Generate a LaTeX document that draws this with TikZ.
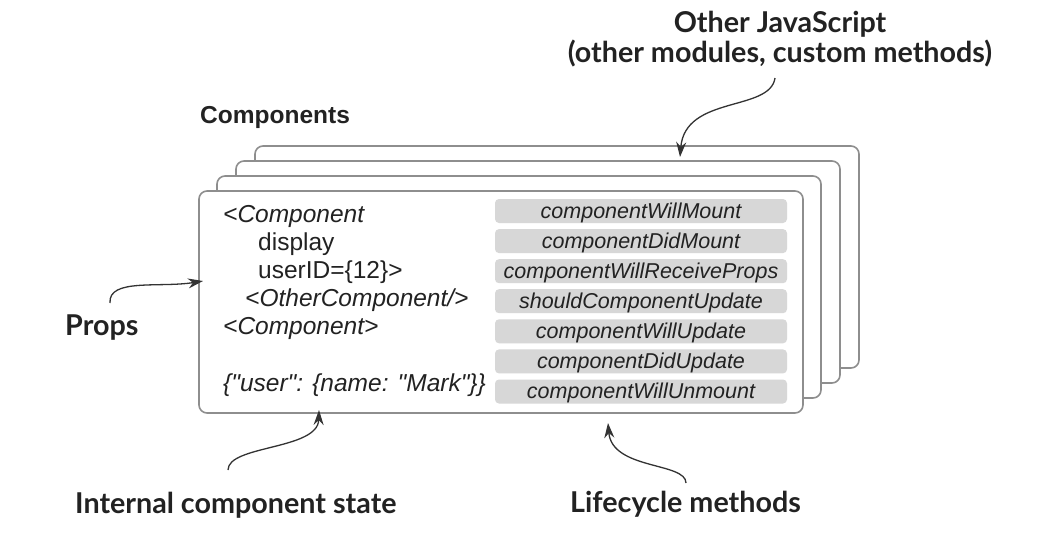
\documentclass[tikz,border=0pt]{standalone}
\usepackage{fontspec}
\setmainfont{Liberation Sans}
\newfontfamily\labelfont{Lato}
\newfontfamily\codefont{Liberation Sans}
\usetikzlibrary{arrows.meta}
\definecolor{framegray}{HTML}{8E8E8E}
\definecolor{boxgray}{HTML}{D7D7D7}
\definecolor{txt}{HTML}{222222}
\definecolor{arrowc}{HTML}{333333}
\newcommand{\dq}{{\char34}}
\begin{document}
\begin{tikzpicture}[x=1pt,y=-1pt,
  frame/.style={draw=framegray, line width=1.6pt, fill=white, rounded corners=8pt,
    minimum width=604pt, minimum height=222pt, inner sep=0pt},
  lcbox/.style={fill=boxgray, rounded corners=4pt, minimum width=292pt, minimum height=24pt,
    inner sep=0pt, text height=16pt, text depth=2pt,
    font=\fontsize{21.5}{21.5}\selectfont\itshape, text=txt},
  code/.style={anchor=base west, inner sep=0pt, text=txt, font=\fontsize{24.5}{24.5}\codefont},
  lab/.style={inner sep=0pt, text=txt, font=\fontsize{28.7}{28.7}\labelfont\bfseries},
  callout/.style={draw=arrowc, line width=1.3pt, -{Stealth[length=15pt,width=10pt]}}
]
\useasboundingbox (0,0) rectangle (1046,558);
% stacked component frames
\node[frame] (f4) at (557,257) {};
\node[frame] (f3) at (538,272) {};
\node[frame] (f2) at (519,287) {};
\node[frame] (f1) at (501,302) {};
% lifecycle methods
\node[lcbox] (m1) at (641,211.0) {componentWillMount};
\node[lcbox] (m2) at (641,241.1) {componentDidMount};
\node[lcbox] (m3) at (641,271.2) {componentWillReceiveProps};
\node[lcbox] (m4) at (641,301.2) {shouldComponentUpdate};
\node[lcbox] (m5) at (641,331.3) {componentWillUpdate};
\node[lcbox] (m6) at (641,361.4) {componentDidUpdate};
\node[lcbox] (m7) at (641,391.5) {componentWillUnmount};
% code text
\node[code] (c1) at (223,222) {\itshape <Component};
\node[code] (c2) at (258,250) {display};
\node[code] (c3) at (258,278) {userID=\{12\}>};
\node[code] (c4) at (245,306) {\itshape <OtherComponent/>};
\node[code] (c5) at (223,334) {\itshape <Component>};
\node[code] (c6) at (223,391) {\itshape \{\dq user\dq: \{name: \dq Mark\dq\}\}};
% labels
\node[anchor=base west, inner sep=0pt, text=txt, font=\fontsize{24.5}{24.5}\selectfont\bfseries] (comp) at (200,123) {Components};
\node[lab, anchor=base] (js1) at (780,32) {Other JavaScript};
\node[lab, anchor=base] (js2) at (780,62) {(other modules, custom methods)};
\node[lab, anchor=base west] (props) at (65,335) {Props};
\node[lab, anchor=base west] (state) at (75,513) {Internal component state};
\node[lab, anchor=base west] (life) at (570,512) {Lifecycle methods};
% callout ends
\coordinate (jsS) at (775,78);
\coordinate (jsT) at (680,157);
\coordinate (prS) at (110,303);
\coordinate (prT) at (203,281);
\coordinate (stS) at (228,470);
\coordinate (stT) at (319,410);
\coordinate (lfS) at (686,483);
\coordinate (lfT) at (608,423);
\draw[callout] (jsS) .. controls (770,112) and (685,95) .. (jsT);
\draw[callout] (prS) .. controls (108,278) and (160,288) .. (prT);
\draw[callout] (stS) .. controls (228,445) and (318,450) .. (stT);
\draw[callout] (lfS) .. controls (686,462) and (612,470) .. (lfT);
\end{tikzpicture}
\end{document}
